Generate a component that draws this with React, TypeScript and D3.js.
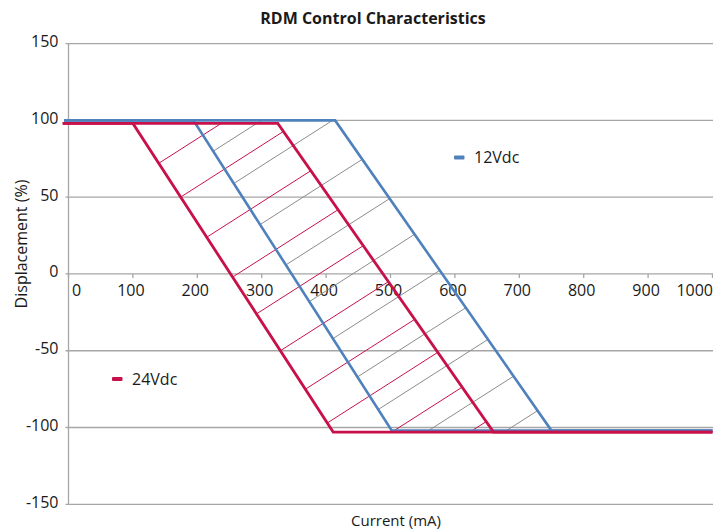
import React, { useRef, useEffect } from 'react';
import * as d3 from 'd3';

// RDM control characteristics: displacement (%) vs current (mA)
const xTicks = [0, 100, 200, 300, 400, 500, 600, 700, 800, 900, 1000];
const yTicks = [-150, -100, -50, 0, 50, 100, 150];

// 24Vdc hysteresis band (two branches)
const v24Lower: [number, number][] = [[-9, 98], [100, 98], [411, -103], [1000, -103]];
const v24Upper: [number, number][] = [[-9, 98], [325, 98], [660, -103], [1000, -103]];

// 12Vdc hysteresis band
const v12Lower: [number, number][] = [[-7, 100], [194, 100], [502, -102], [1000, -102]];
const v12Upper: [number, number][] = [[-7, 100], [414, 100], [750, -102], [1000, -102]];

// hatching: where each stroke starts (mA, %), strokes rise at hatchSlope %/mA
const hatchSlope = 0.268;
const v24HatchStarts: [number, number][] = [
  [140, 72], [174, 50], [215, 24], [255, -2], [292, -26],
  [329, -50], [368, -75], [402, -97], [502, -103], [623, -103]
];
const v12HatchStarts: [number, number][] = [
  [225, 80], [257, 59], [297, 32], [338, 6], [374, -18],
  [411, -42], [449, -67], [482, -88], [559, -102], [680, -102]
];

const width = 713;
const height = 532;

const RED = '#c8114b';
const BLUE = '#4f81bd';
const GRID = '#a6a6a6';
const FONT = '"Open Sans", "DejaVu Sans", sans-serif';

const RdmChart: React.FC = () => {
  const svgRef = useRef<SVGSVGElement>(null);

  useEffect(() => {
    if (!svgRef.current) return;
    const svg = d3.select(svgRef.current);
    svg.selectAll('*').remove();

    const x = d3.scaleLinear().domain([0, 1000]).range([68.5, 712.5]);
    const y = d3.scaleLinear().domain([-150, 150]).range([504.3, 43.6]);

    const line = d3.line<[number, number]>()
      .x(d => x(d[0]))
      .y(d => y(d[1]));

    // grid lines
    svg.append('g')
      .selectAll('line')
      .data(yTicks)
      .join('line')
      .attr('x1', x(0) - 3)
      .attr('x2', width)
      .attr('y1', d => y(d))
      .attr('y2', d => y(d))
      .attr('stroke', GRID)
      .attr('stroke-width', 1.3);

    // vertical axis
    svg.append('line')
      .attr('x1', x(0)).attr('x2', x(0))
      .attr('y1', y(150)).attr('y2', y(-150))
      .attr('stroke', GRID)
      .attr('stroke-width', 1.3);

    // x tick marks on the zero line
    svg.append('g')
      .selectAll('line')
      .data(xTicks)
      .join('line')
      .attr('x1', d => x(d))
      .attr('x2', d => x(d))
      .attr('y1', y(0))
      .attr('y2', y(0) + 4)
      .attr('stroke', GRID)
      .attr('stroke-width', 1.3);

    // y tick labels
    svg.append('g')
      .selectAll('text')
      .data(yTicks)
      .join('text')
      .attr('x', 58.5)
      .attr('y', d => y(d) + 3.5)
      .attr('text-anchor', 'end')
      .style('font-family', FONT)
      .style('font-size', '16px')
      .attr('fill', '#1a1a1a')
      .text(d => d);

    // x tick labels
    svg.append('g')
      .selectAll('text')
      .data(xTicks)
      .join('text')
      .attr('x', (d, i) => (i === 0 ? x(d) + 3.5 : i === xTicks.length - 1 ? width : x(d) - 2))
      .attr('y', y(0) + 22.5)
      .attr('text-anchor', (d, i) => (i === 0 ? 'start' : i === xTicks.length - 1 ? 'end' : 'middle'))
      .style('font-family', FONT)
      .style('font-size', '16px')
      .attr('fill', '#1a1a1a')
      .text(d => d);

    // hatch clip regions (area between the two branches of each band)
    const defs = svg.append('defs');
    const bandPath = (a: [number, number][], b: [number, number][]) =>
      line([...a, ...b.slice().reverse()]) + 'Z';
    defs.append('clipPath').attr('id', 'band24')
      .append('path').attr('d', bandPath(v24Lower, v24Upper));
    defs.append('clipPath').attr('id', 'band12')
      .append('path').attr('d', bandPath(v12Lower, v12Upper));

    const hatchSegment = (d: [number, number]): [number, number][] => [
      [d[0] - 30, d[1] - hatchSlope * 30],
      [d[0] + 700, d[1] + hatchSlope * 700]
    ];

    svg.append('g')
      .attr('clip-path', 'url(#band12)')
      .selectAll('path')
      .data(v12HatchStarts)
      .join('path')
      .attr('d', d => line(hatchSegment(d)))
      .attr('stroke', '#8c8c8c')
      .attr('stroke-width', 1)
      .attr('fill', 'none');

    svg.append('g')
      .attr('clip-path', 'url(#band24)')
      .selectAll('path')
      .data(v24HatchStarts)
      .join('path')
      .attr('d', d => line(hatchSegment(d)))
      .attr('stroke', RED)
      .attr('stroke-width', 1)
      .attr('fill', 'none');

    // main curves
    [v12Lower, v12Upper].forEach(s => {
      svg.append('path')
        .datum(s)
        .attr('d', line)
        .attr('fill', 'none')
        .attr('stroke', BLUE)
        .attr('stroke-width', 2.6)
        .attr('stroke-linejoin', 'miter');
    });
    [v24Lower, v24Upper].forEach(s => {
      svg.append('path')
        .datum(s)
        .attr('d', line)
        .attr('fill', 'none')
        .attr('stroke', RED)
        .attr('stroke-width', 2.8)
        .attr('stroke-linejoin', 'miter');
    });

    // legends
    const legend = [
      { label: '12Vdc', color: BLUE, mx: 454, my: 157.5 },
      { label: '24Vdc', color: RED, mx: 112, my: 379 }
    ];
    legend.forEach(l => {
      svg.append('rect')
        .attr('x', l.mx).attr('y', l.my - 2)
        .attr('width', 10.5).attr('height', 4)
        .attr('rx', 1)
        .attr('fill', l.color);
      svg.append('text')
        .attr('x', l.mx + 20)
        .attr('y', l.my + 5.5)
        .style('font-family', FONT)
        .style('font-size', '16px')
        .attr('fill', '#1a1a1a')
        .text(l.label);
    });

    // title
    svg.append('text')
      .attr('x', 373)
      .attr('y', 24)
      .attr('text-anchor', 'middle')
      .style('font-family', FONT)
      .style('font-size', '16px')
      .style('font-weight', '700')
      .attr('fill', '#1a1a1a')
      .text('RDM Control Characteristics');

    // axis titles
    svg.append('text')
      .attr('transform', 'translate(26.5,244) rotate(-90)')
      .attr('text-anchor', 'middle')
      .style('font-family', FONT)
      .style('font-size', '16px')
      .attr('fill', '#1a1a1a')
      .text('Displacement (%)');

    svg.append('text')
      .attr('x', 396)
      .attr('y', 526)
      .attr('text-anchor', 'middle')
      .style('font-family', FONT)
      .style('font-size', '15px')
      .attr('fill', '#1a1a1a')
      .text('Current (mA)');
  }, []);

  return (
    <svg
      ref={svgRef}
      width={width}
      height={height}
      style={{ position: 'absolute', left: 0, top: 0, background: '#ffffff', display: 'block' }}
    />
  );
};

export default function App() {
  return <RdmChart />;
}
